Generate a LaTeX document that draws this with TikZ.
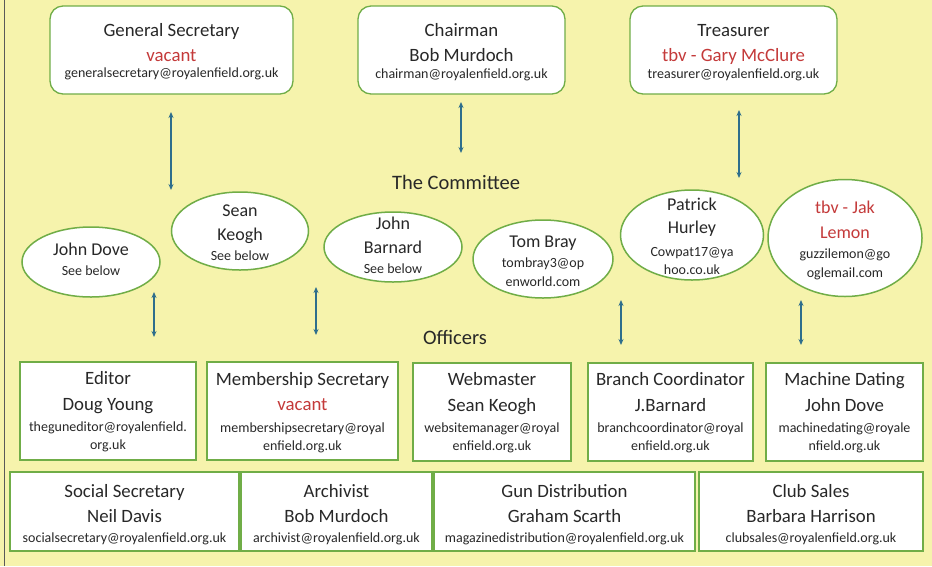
\documentclass[tikz,border=0pt]{standalone}
\usepackage{fontspec}
\setmainfont{Carlito}
\usetikzlibrary{arrows.meta,shapes.geometric}
\definecolor{bgyellow}{RGB}{246,243,172}
\definecolor{boxgreen}{RGB}{112,173,71}
\definecolor{txtred}{RGB}{196,58,58}
\definecolor{txtgray}{RGB}{40,40,40}
\definecolor{arrowblue}{RGB}{46,110,140}
\tikzset{
 topbox/.style={draw=boxgreen, line width=1.3pt, fill=white, rounded corners=13pt, inner sep=0pt},
 offbox/.style={draw=boxgreen, line width=2pt, fill=white, inner sep=0pt},
 member/.style={ellipse, draw=boxgreen, line width=1.5pt, fill=white, inner sep=0pt},
 ttl/.style={anchor=base, text=txtgray, font=\fontsize{18.8}{20}\selectfont, inner sep=0pt},
 redname/.style={ttl, text=txtred},
 ename/.style={anchor=base, text=txtgray, font=\fontsize{18}{20}\selectfont, inner sep=0pt},
 rename/.style={ename, text=txtred},
 mail/.style={anchor=base, text=txtgray, font=\fontsize{14}{15}\selectfont, inner sep=0pt},
 head/.style={anchor=base, text=txtgray, font=\fontsize{20.5}{22}\selectfont, inner sep=0pt},
 biarrow/.style={draw=arrowblue, line width=1.3pt, {Stealth[length=6pt,width=5pt]}-{Stealth[length=6pt,width=5pt]}},
}
\begin{document}
\begin{tikzpicture}[x=1pt,y=-1pt]
\fill[bgyellow] (0,0) rectangle (932,566);
\useasboundingbox (0,0) rectangle (932,566);
\draw[gray!70!black, line width=1pt] (4,0) -- (4,566);

% top boxes
\node[topbox, minimum width=243pt, minimum height=88pt] (gs) at (171.5,50) {};
\node[ttl] (gs-t) at (171.5,36) {General Secretary};
\node[redname] (gs-n) at (171.5,61) {vacant};
\node[mail] (gs-e) at (171.5,77) {generalsecretary@royalenfield.org.uk};

\node[topbox, minimum width=207pt, minimum height=88pt] (ch) at (461.5,50) {};
\node[ttl] (ch-t) at (461.5,36) {Chairman};
\node[ttl] (ch-n) at (461.5,61) {Bob Murdoch};
\node[mail] (ch-e) at (461.5,78) {chairman@royalenfield.org.uk};

\node[topbox, minimum width=207pt, minimum height=88pt] (tr) at (733.5,50) {};
\node[ttl] (tr-t) at (733.5,36) {Treasurer};
\node[redname] (tr-n) at (733.5,61) {tbv - Gary McClure};
\node[mail] (tr-e) at (733.5,78) {treasurer@royalenfield.org.uk};

% top arrows
\coordinate (a1s) at (171,112); \coordinate (a1e) at (171,190);
\coordinate (a2s) at (461,102); \coordinate (a2e) at (461,153);
\coordinate (a3s) at (739,110); \coordinate (a3e) at (739,178);
\draw[biarrow] (a1s) -- (a1e);
\draw[biarrow] (a2s) -- (a2e);
\draw[biarrow] (a3s) -- (a3e);

\node[head] (committee) at (456,189) {The Committee};
\node[head] (officers) at (455,344) {Officers};

% committee ellipses
\node[member, minimum width=138pt, minimum height=70pt] (jd) at (91,262) {};
\node[ename] (jd-n) at (91,255) {John Dove};
\node[mail] (jd-e) at (91,275) {See below};

\node[member, minimum width=137pt, minimum height=78pt] (sk) at (240,231) {};
\node[ename] (sk-n1) at (240,216) {Sean};
\node[ename] (sk-n2) at (240,240) {Keogh};
\node[mail] (sk-e) at (240,260) {See below};

\node[member, minimum width=138pt, minimum height=70pt] (jb) at (393,247) {};
\node[ename] (jb-n1) at (393,229) {John};
\node[ename] (jb-n2) at (393,253) {Barnard};
\node[mail] (jb-e) at (393,273) {See below};

\node[member, minimum width=140pt, minimum height=78pt] (tb) at (543,259) {};
\node[ename] (tb-n) at (543,247) {Tom Bray};
\node[mail] (tb-e1) at (543,267) {tombray3@op};
\node[mail] (tb-e2) at (543,286) {enworld.com};

\node[member, minimum width=143pt, minimum height=90pt] (ph) at (692,235) {};
\node[ename] (ph-n1) at (692,210) {Patrick};
\node[ename] (ph-n2) at (692,233) {Hurley};
\node[mail] (ph-e1) at (692,256) {Cowpat17@ya};
\node[mail] (ph-e2) at (692,274) {hoo.co.uk};

\node[member, minimum width=154pt, minimum height=117pt] (jl) at (845,238) {};
\node[rename] (jl-n1) at (845,213) {tbv - Jak};
\node[rename] (jl-n2) at (845,238) {Lemon};
\node[mail] (jl-e1) at (845,258) {guzzilemon@go};
\node[mail] (jl-e2) at (845,277) {oglemail.com};

% lower arrows
\coordinate (b1s) at (154,292); \coordinate (b1e) at (154,337);
\coordinate (b2s) at (316,287); \coordinate (b2e) at (316,335);
\coordinate (b3s) at (621,300); \coordinate (b3e) at (621,345);
\coordinate (b4s) at (801,300); \coordinate (b4e) at (801,345);
\draw[biarrow] (b1s) -- (b1e);
\draw[biarrow] (b2s) -- (b2e);
\draw[biarrow] (b3s) -- (b3e);
\draw[biarrow] (b4s) -- (b4e);

% officers row 1
\node[offbox, minimum width=176pt, minimum height=98pt] (ed) at (108,411) {};
\node[ttl] (ed-t) at (108,384) {Editor};
\node[ttl] (ed-n) at (108,410) {Doug Young};
\node[mail] (ed-e1) at (108,431) {theguneditor@royalenfield.};
\node[mail] (ed-e2) at (108,449) {org.uk};

\node[offbox, minimum width=191pt, minimum height=98pt] (ms) at (302.5,411) {};
\node[ttl] (ms-t) at (302.5,385) {Membership Secretary};
\node[redname] (ms-n) at (302.5,410) {vacant};
\node[mail] (ms-e1) at (302.5,432) {membershipsecretary@royal};
\node[mail] (ms-e2) at (302.5,450) {enfield.org.uk};

\node[offbox, minimum width=158pt, minimum height=98pt] (wm) at (492,412) {};
\node[ttl] (wm-t) at (492,385) {Webmaster};
\node[ttl] (wm-n) at (492,411) {Sean Keogh};
\node[mail] (wm-e1) at (492,432) {websitemanager@royal};
\node[mail] (wm-e2) at (492,450) {enfield.org.uk};

\node[offbox, minimum width=165pt, minimum height=98pt] (bc) at (670.5,412) {};
\node[ttl] (bc-t) at (670.5,385) {Branch Coordinator};
\node[ttl] (bc-n) at (670.5,411) {J.Barnard};
\node[mail] (bc-e1) at (670.5,432) {branchcoordinator@royal};
\node[mail] (bc-e2) at (670.5,450) {enfield.org.uk};

\node[offbox, minimum width=157pt, minimum height=98pt] (md) at (844.5,412) {};
\node[ttl] (md-t) at (844.5,385) {Machine Dating};
\node[ttl] (md-n) at (844.5,411) {John Dove};
\node[mail] (md-e1) at (844.5,432) {machinedating@royale};
\node[mail] (md-e2) at (844.5,450) {nfield.org.uk};

% officers row 2
\node[offbox, minimum width=229pt, minimum height=79pt] (ss) at (124.5,511.5) {};
\node[ttl] (ss-t) at (124.5,497) {Social Secretary};
\node[ttl] (ss-n) at (124.5,522) {Neil Davis};
\node[mail] (ss-e) at (124.5,542) {socialsecretary@royalenfield.org.uk};

\node[offbox, minimum width=191pt, minimum height=79pt] (ar) at (336.5,511.5) {};
\node[ttl] (ar-t) at (336.5,497) {Archivist};
\node[ttl] (ar-n) at (336.5,522) {Bob Murdoch};
\node[mail] (ar-e) at (336.5,542) {archivist@royalenfield.org.uk};

\node[offbox, minimum width=261pt, minimum height=79pt] (gd) at (564.5,511.5) {};
\node[ttl] (gd-t) at (564.5,497) {Gun Distribution};
\node[ttl] (gd-n) at (564.5,522) {Graham Scarth};
\node[mail] (gd-e) at (564.5,542) {magazinedistribution@royalenfield.org.uk};

\node[offbox, minimum width=224pt, minimum height=79pt] (cs) at (811,511.5) {};
\node[ttl] (cs-t) at (811,497) {Club Sales};
\node[ttl] (cs-n) at (811,522) {Barbara Harrison};
\node[mail] (cs-e) at (811,542) {clubsales@royalenfield.org.uk};
\end{tikzpicture}
\end{document}
